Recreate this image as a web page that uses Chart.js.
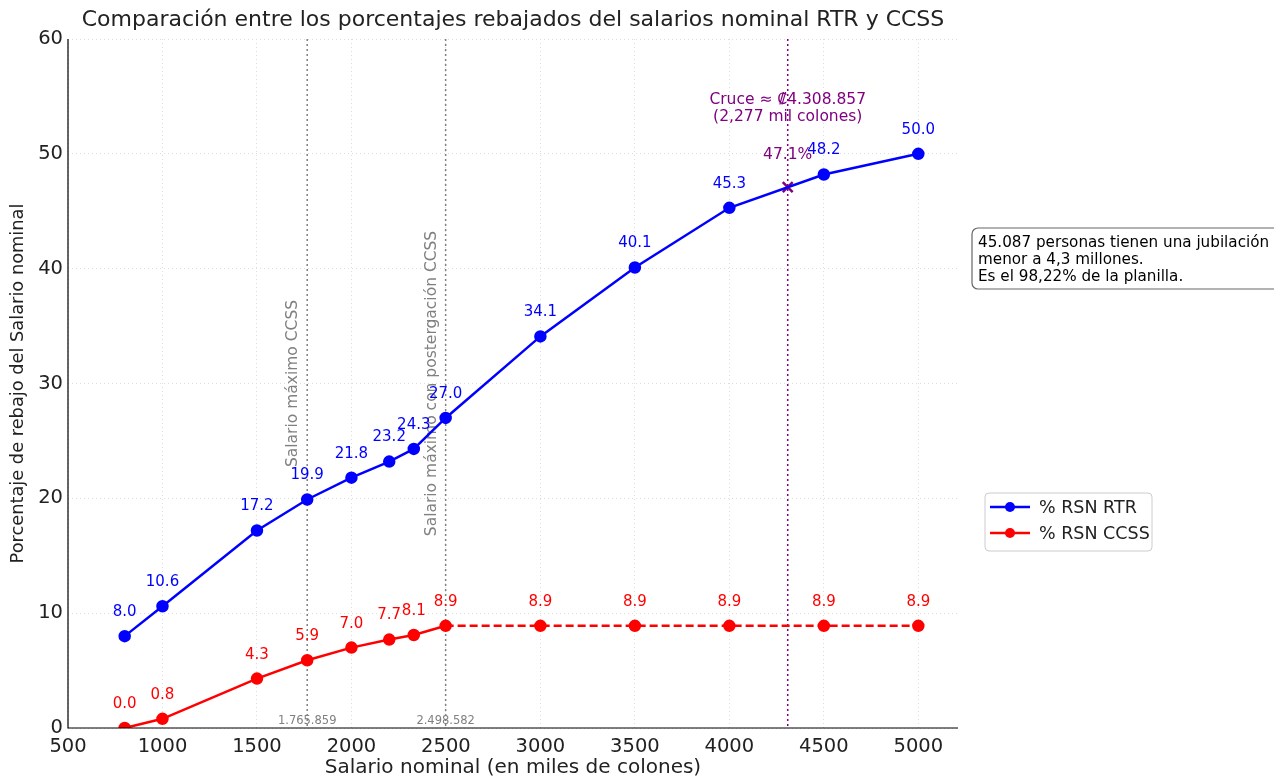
<!DOCTYPE html>
<html>
<head>
<meta charset="utf-8">
<script src="https://cdn.jsdelivr.net/npm/chart.js"></script>
<style>
  html, body { margin: 0; padding: 0; background: #fff; }
  #wrap { width: 1274px; height: 778px; }
</style>
</head>
<body>
<div id="wrap"><canvas id="rebajos" width="1274" height="778"></canvas></div>
<script>
// valores
const salarios = [800, 1000, 1500, 1765.859, 2000, 2200, 2330, 2498.582, 3000, 3500, 4000, 4500, 5000];
const rsnRTR = [8.0, 10.6, 17.2, 19.9, 21.8, 23.2, 24.3, 27.0, 34.1, 40.1, 45.3, 48.2, 50.0];
const rsnCCSS = [0.0, 0.8, 4.3, 5.9, 7.0, 7.7, 8.1, 8.9, 8.9, 8.9, 8.9, 8.9, 8.9];
const cruceX = [4308.857];
const cruceY = [47.1];
const topesCCSS = [1765.859, 2498.582];
const topesTexto = ["Salario máximo CCSS", "Salario máximo con postergación CCSS"];
const topesEtiqueta = ["1.765.859", "2.498.582"];
const xTicks = [500, 1000, 1500, 2000, 2500, 3000, 3500, 4000, 4500, 5000];
const yTicks = [0, 10, 20, 30, 40, 50, 60];

const FONT = "'DejaVu Sans', sans-serif";

const rtrPts = salarios.map((x, i) => ({ x: x, y: rsnRTR[i] }));
const ccssPts = salarios.map((x, i) => ({ x: x, y: rsnCCSS[i] }));
const crucePts = cruceX.map((x, i) => ({ x: x, y: cruceY[i] }));

const extras = {
    id: "extras",
    beforeDatasetsDraw(chart) {
        const ctx = chart.ctx;
        const xs = chart.scales.x, ys = chart.scales.y;
        const a = chart.chartArea;
        ctx.save();
        // lineas verticales grises
        ctx.strokeStyle = "#808080";
        ctx.lineWidth = 1.5;
        ctx.setLineDash([2, 3]);
        topesCCSS.forEach(v => {
            const px = xs.getPixelForValue(v);
            ctx.beginPath(); ctx.moveTo(px, a.top); ctx.lineTo(px, a.bottom); ctx.stroke();
        });
        // linea del cruce
        ctx.strokeStyle = "#800080";
        const cx = xs.getPixelForValue(cruceX[0]);
        ctx.beginPath(); ctx.moveTo(cx, a.top); ctx.lineTo(cx, a.bottom); ctx.stroke();
        ctx.setLineDash([]);

        // textos rotados
        ctx.fillStyle = "#808080";
        ctx.font = "15.5px " + FONT;
        topesCCSS.forEach((v, i) => {
            const px = xs.getPixelForValue(v) - 14;
            const py = ys.getPixelForValue(30);
            ctx.save();
            ctx.translate(px, py);
            ctx.rotate(-Math.PI / 2);
            ctx.textAlign = "center";
            ctx.textBaseline = "middle";
            ctx.fillText(topesTexto[i], 0, 0);
            ctx.restore();
        });
        // etiquetas junto al eje
        ctx.font = "11.5px " + FONT;
        ctx.textAlign = "center";
        ctx.textBaseline = "middle";
        topesCCSS.forEach((v, i) => {
            ctx.fillText(topesEtiqueta[i], xs.getPixelForValue(v), a.bottom - 7);
        });
        ctx.restore();
    },
    afterDatasetsDraw(chart) {
        const ctx = chart.ctx;
        const xs = chart.scales.x, ys = chart.scales.y;
        const a = chart.chartArea;
        ctx.save();
        ctx.font = "15px " + FONT;
        ctx.textAlign = "center";
        ctx.textBaseline = "middle";
        [[0, "#0000ff", rsnRTR], [1, "#ff0000", rsnCCSS]].forEach(([di, col, vals]) => {
            ctx.fillStyle = col;
            chart.getDatasetMeta(di).data.forEach((p, i) => {
                ctx.fillText(vals[i].toFixed(1), p.x, p.y - 24);
            });
        });
        // cruce
        ctx.fillStyle = "#800080";
        ctx.font = "15.5px " + FONT;
        const cx = xs.getPixelForValue(cruceX[0]);
        const cy = ys.getPixelForValue(cruceY[0]);
        ctx.fillText(cruceY[0].toFixed(1) + "%", cx, cy - 32);
        ctx.fillText("Cruce ≈ ₡4.308.857", cx, ys.getPixelForValue(54.7));
        ctx.fillText("(2,277 mil colones)", cx, ys.getPixelForValue(53.2));

        // ejes
        ctx.strokeStyle = "#000";
        ctx.lineWidth = 1.2;
        ctx.beginPath();
        ctx.moveTo(a.left, a.top); ctx.lineTo(a.left, a.bottom); ctx.lineTo(a.right, a.bottom);
        ctx.stroke();

        // titulo
        ctx.fillStyle = "#222";
        ctx.font = "22px " + FONT;
        ctx.textAlign = "center";
        ctx.fillText("Comparación entre los porcentajes rebajados del salarios nominal RTR y CCSS", 513, 20);

        // leyenda
        ctx.lineWidth = 1;
        ctx.strokeStyle = "#cccccc";
        ctx.beginPath();
        ctx.roundRect(985, 493, 167, 58, 4);
        ctx.stroke();
        ctx.font = "17.5px " + FONT;
        ctx.textAlign = "left";
        [["#0000ff", "% RSN RTR", 507], ["#ff0000", "% RSN CCSS", 533]].forEach(([col, txt, y]) => {
            ctx.strokeStyle = col;
            ctx.lineWidth = 2.5;
            ctx.beginPath(); ctx.moveTo(990, y); ctx.lineTo(1030, y); ctx.stroke();
            ctx.fillStyle = col;
            ctx.beginPath(); ctx.arc(1010, y, 5, 0, Math.PI * 2); ctx.fill();
            ctx.fillStyle = "#222";
            ctx.fillText(txt, 1039, y + 1);
        });

        // recuadro de nota
        ctx.lineWidth = 1.2;
        ctx.strokeStyle = "#666";
        ctx.fillStyle = "#fff";
        ctx.beginPath();
        ctx.roundRect(972, 228, 320, 61, 6);
        ctx.fill();
        ctx.stroke();
        ctx.fillStyle = "#000";
        ctx.font = "15.2px " + FONT;
        ctx.fillText("45.087 personas tienen una jubilación", 978, 243);
        ctx.fillText("menor a 4,3 millones.", 978, 260);
        ctx.fillText("Es el 98,22% de la planilla.", 978, 277);
        ctx.restore();
    }
};

new Chart(document.getElementById("rebajos").getContext("2d"), {
    type: "line",
    data: {
        datasets: [{
            label: "% RSN RTR",
            data: rtrPts,
            borderColor: "#0000ff",
            backgroundColor: "#0000ff",
            borderWidth: 2.5,
            pointRadius: 5,
            pointHoverRadius: 5,
            tension: 0
        }, {
            label: "% RSN CCSS",
            data: ccssPts,
            borderColor: "#ff0000",
            backgroundColor: "#ff0000",
            borderWidth: 2.5,
            pointRadius: 5,
            pointHoverRadius: 5,
            tension: 0,
            segment: {
                borderDash: c => c.p0.parsed.x >= 2498 ? [8, 4] : undefined
            }
        }, {
            label: "Cruce",
            data: crucePts,
            showLine: false,
            pointStyle: "crossRot",
            pointRadius: 7,
            pointBorderWidth: 2.5,
            borderColor: "#800080",
            backgroundColor: "#800080"
        }]
    },
    options: {
        responsive: false,
        animation: false,
        layout: { padding: { top: 39, right: 316, left: 0, bottom: 0 } },
        plugins: {
            legend: { display: false },
            title: { display: false },
            tooltip: { enabled: false }
        },
        scales: {
            x: {
                type: "linear",
                min: 500,
                max: 5210,
                afterBuildTicks: s => { s.ticks = xTicks.map(v => ({ value: v })); },
                afterFit: s => { s.height = 50; },
                border: { display: false, dash: [1, 3] },
                grid: { color: "#dddddd", drawTicks: false, lineWidth: 1 },
                ticks: {
                    color: "#222",
                    font: { family: FONT, size: 19.5 },
                    padding: 7,
                    callback: v => String(v)
                },
                title: {
                    display: true,
                    text: "Salario nominal (en miles de colones)",
                    color: "#222",
                    font: { family: FONT, size: 20, lineHeight: 1 },
                    padding: { top: 0, bottom: 0 }
                }
            },
            y: {
                min: 0,
                max: 60,
                afterBuildTicks: s => { s.ticks = yTicks.map(v => ({ value: v })); },
                afterFit: s => { s.width = 68; },
                border: { display: false, dash: [1, 3] },
                grid: { color: "#dddddd", drawTicks: false, lineWidth: 1 },
                ticks: {
                    color: "#222",
                    font: { family: FONT, size: 19.5 },
                    padding: 5,
                    callback: v => String(v)
                },
                title: {
                    display: true,
                    text: "Porcentaje de rebajo del Salario nominal",
                    color: "#222",
                    font: { family: FONT, size: 17.8 },
                    padding: { top: 8, bottom: 0 }
                }
            }
        }
    },
    plugins: [extras]
});
</script>
</body>
</html>
